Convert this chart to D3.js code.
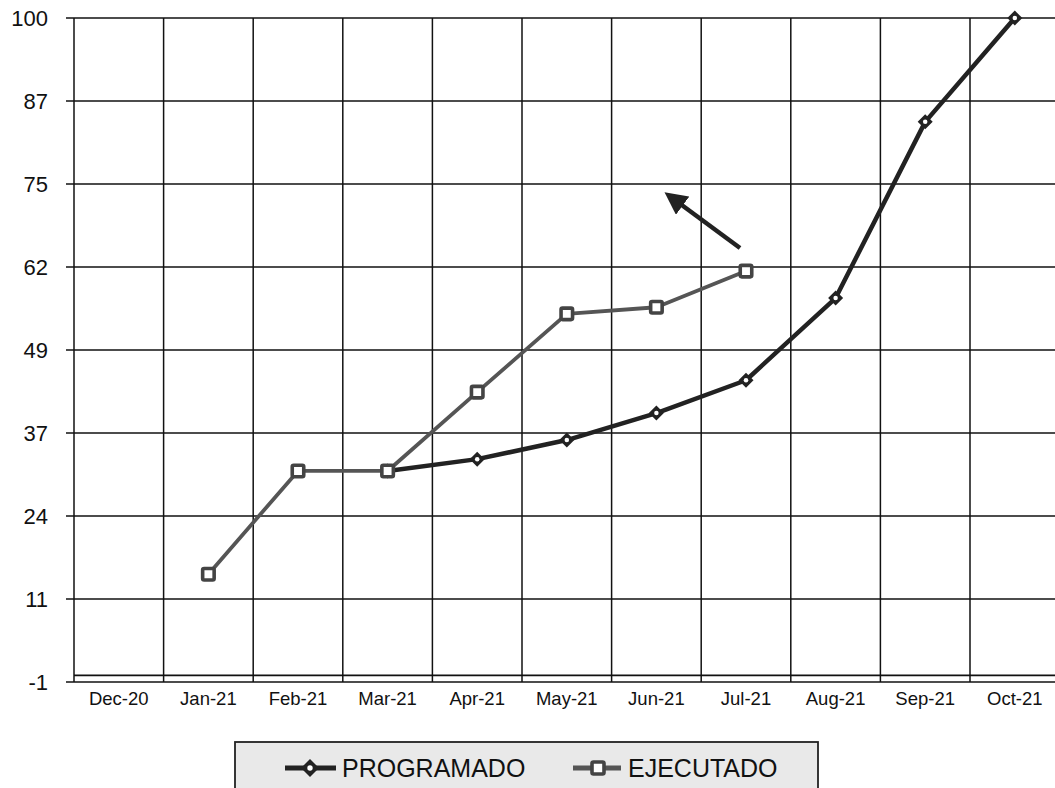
<!DOCTYPE html>
<html><head><meta charset="utf-8">
<script src="https://cdn.jsdelivr.net/npm/d3@7"></script>
<style>html,body{margin:0;padding:0;background:#fff;overflow:hidden}</style>
</head><body>
<svg id="c" width="1055" height="788"></svg>
<script>
const categories = ["Dec-20","Jan-21","Feb-21","Mar-21","Apr-21","May-21","Jun-21","Jul-21","Aug-21","Sep-21","Oct-21"];
const programado = [null,null,null,31.1,32.9,35.8,39.9,44.9,57.4,84.2,100];
const ejecutado = [null,15.4,31.1,31.1,43.1,55,56,61.5,null,null,null];
const yTickLabels = ["-1","11","24","37","49","62","75","87","100"];
const yMin = -1, yMax = 100;

const svg = d3.select("#c");
const FONT = "Liberation Sans, Arial, sans-serif";
const pLeft = 74, pRight = 1059.6, pTop = 18, pBottom = 682;
const x = d3.scaleBand().domain(categories).range([pLeft, pRight]).padding(0);
const y = d3.scaleLinear().domain([yMin, yMax]).range([pBottom, pTop]);
const tickVals = yTickLabels.map((d,i)=> yMin + i*(yMax-yMin)/(yTickLabels.length-1));

// horizontal gridlines
svg.append("g").selectAll("line").data(tickVals).join("line")
  .attr("x1", pLeft-8).attr("x2", pRight).attr("y1", d=>y(d)).attr("y2", d=>y(d))
  .attr("stroke","#111").attr("stroke-width",1.7);
// zero line (category axis)
svg.append("line").attr("x1",pLeft).attr("x2",pRight).attr("y1",y(0)).attr("y2",y(0))
  .attr("stroke","#111").attr("stroke-width",1.7);
// vertical gridlines
const bounds = categories.map(c=>x(c)).concat([pRight]);
svg.append("g").selectAll("line").data(bounds).join("line")
  .attr("x1",d=>d).attr("x2",d=>d).attr("y1",pTop).attr("y2",pBottom)
  .attr("stroke","#111").attr("stroke-width",1.5);

// y labels
svg.append("g").selectAll("text").data(tickVals).join("text")
  .attr("x", 48).attr("y", d=>y(d)+8).attr("text-anchor","end")
  .attr("font-family",FONT).attr("font-size",22).attr("fill","#111")
  .text((d,i)=>yTickLabels[i]);
// x labels
svg.append("g").selectAll("text").data(categories).join("text")
  .attr("x", d=>x(d)+x.bandwidth()/2).attr("y", 705).attr("text-anchor","middle")
  .attr("font-family",FONT).attr("font-size",18.5).attr("fill","#111")
  .text(d=>d);

const cx = c => x(c)+x.bandwidth()/2;
const line = d3.line().defined(d=>d.v!=null).x(d=>cx(d.c)).y(d=>y(d.v));
const progData = categories.map((c,i)=>({c, v:programado[i]}));
const ejData = categories.map((c,i)=>({c, v:ejecutado[i]}));

// PROGRAMADO
svg.append("path").datum(progData).attr("d",line).attr("fill","none")
  .attr("stroke","#222").attr("stroke-width",4.5).attr("stroke-linejoin","round");
const diamond = (g, px, py, s) => {
  g.append("path").attr("d",`M${px},${py-s}L${px+s},${py}L${px},${py+s}L${px-s},${py}Z`)
    .attr("fill","#222");
  g.append("circle").attr("cx",px).attr("cy",py).attr("r",s*0.3).attr("fill","#fff");
};
const gp = svg.append("g");
progData.filter(d=>d.v!=null).forEach(d=>diamond(gp, cx(d.c), y(d.v), 7.5));

// EJECUTADO
svg.append("path").datum(ejData).attr("d",line).attr("fill","none")
  .attr("stroke","#555").attr("stroke-width",3.8).attr("stroke-linejoin","round");
const square = (g, px, py, s) => {
  g.append("rect").attr("x",px-s/2).attr("y",py-s/2).attr("width",s).attr("height",s).attr("rx",1.5)
    .attr("fill","#fff").attr("stroke","#444").attr("stroke-width",3.6);
};
const ge = svg.append("g");
ejData.filter(d=>d.v!=null).forEach(d=>square(ge, cx(d.c), y(d.v), 11.5));

// arrow annotation
const defs = svg.append("defs");
defs.append("marker").attr("id","ah").attr("viewBox","0 0 10 10").attr("refX",2).attr("refY",5)
  .attr("markerWidth",5).attr("markerHeight",5).attr("orient","auto")
  .append("path").attr("d","M0,0L10,5L0,10Z").attr("fill","#222");
svg.append("line").attr("x1",740).attr("y1",248).attr("x2",679).attr("y2",203)
  .attr("stroke","#222").attr("stroke-width",4.5).attr("marker-end","url(#ah)");

// legend
const lg = svg.append("g");
lg.append("rect").attr("x",235).attr("y",742).attr("width",583).attr("height",60)
  .attr("fill","#e9e9e9").attr("stroke","#222").attr("stroke-width",1.8);
lg.append("line").attr("x1",285).attr("x2",336).attr("y1",768).attr("y2",768).attr("stroke","#222").attr("stroke-width",5);
diamond(lg, 310, 768, 9);
lg.append("text").attr("x",342).attr("y",777)
  .attr("font-family",FONT).attr("font-size",25).attr("fill","#111").text("PROGRAMADO");
lg.append("line").attr("x1",573).attr("x2",621).attr("y1",768).attr("y2",768).attr("stroke","#555").attr("stroke-width",5);
square(lg, 598, 768, 12);
lg.append("text").attr("x",628).attr("y",777)
  .attr("font-family",FONT).attr("font-size",25).attr("fill","#111").text("EJECUTADO");
</script>
</body></html>
